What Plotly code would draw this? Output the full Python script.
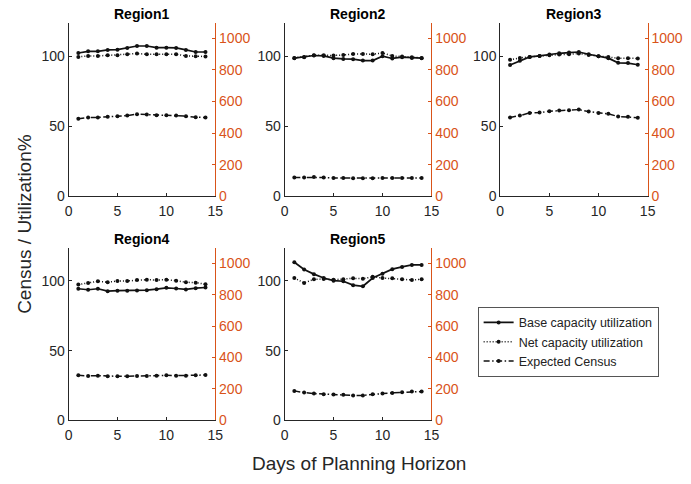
import plotly.graph_objects as go

# Planning horizon (days)
days = list(range(1, 15))

regions = ["Region1", "Region2", "Region3", "Region4", "Region5"]

# Base capacity utilization (%)
base_util = {
    "Region1": [102.3, 103.5, 103.5, 104.5, 104.7, 105.9, 107.3, 107.3, 106.1, 106.1, 105.9, 104.5, 103.0, 103.0],
    "Region2": [98.6, 99.3, 100.5, 100.2, 98.6, 98.1, 97.9, 96.9, 96.9, 100.0, 98.4, 99.3, 98.8, 98.6],
    "Region3": [93.7, 96.7, 99.5, 100.2, 101.2, 102.1, 102.6, 103.0, 101.4, 100.0, 98.6, 95.3, 95.1, 93.9],
    "Region4": [94.4, 93.7, 94.4, 92.7, 93.0, 93.0, 93.2, 93.4, 94.1, 95.1, 94.6, 93.9, 94.8, 95.3],
    "Region5": [113.4, 108.2, 104.9, 102.1, 100.2, 99.8, 97.0, 96.2, 102.1, 105.2, 108.5, 110.1, 111.5, 111.5],
}

# Net capacity utilization (%)
net_util = {
    "Region1": [99.5, 100.2, 100.2, 100.7, 100.7, 101.4, 101.9, 101.4, 101.4, 101.4, 101.4, 100.2, 100.0, 99.8],
    "Region2": [98.8, 99.5, 100.7, 100.7, 100.5, 100.9, 101.6, 101.6, 101.4, 102.3, 100.2, 99.8, 99.3, 98.8],
    "Region3": [97.4, 98.8, 99.5, 100.2, 100.7, 101.2, 101.4, 101.9, 100.9, 100.0, 99.5, 98.6, 98.6, 98.4],
    "Region4": [97.4, 98.6, 99.8, 99.1, 100.0, 100.0, 100.7, 100.9, 100.7, 100.9, 100.2, 99.1, 98.8, 97.7],
    "Region5": [102.1, 98.6, 101.2, 101.4, 100.9, 101.2, 101.9, 101.6, 103.0, 102.1, 101.9, 101.2, 100.7, 101.2],
}

# Expected census (patients), plotted against the right-hand axis
census = {
    "Region1": [491, 499, 499, 503, 507, 511, 520, 518, 513, 513, 511, 507, 501, 499],
    "Region2": [118, 118, 121, 118, 116, 116, 114, 114, 114, 116, 116, 116, 116, 116],
    "Region3": [499, 511, 528, 530, 538, 543, 545, 549, 536, 528, 522, 505, 503, 497],
    "Region4": [286, 282, 284, 280, 280, 280, 282, 282, 284, 286, 284, 284, 286, 288],
    "Region5": [187, 176, 170, 166, 164, 162, 158, 158, 166, 170, 174, 178, 183, 183],
}

x_ticks = [0, 5, 10, 15]
left_ticks = [0, 50, 100]
right_ticks = [0, 200, 400, 600, 800, 1000]

W, H = 691, 484
FONT = "Liberation Sans, Arial, sans-serif"
AX_GRAY = "#262626"
ORANGE = "#D95319"
LINE = "#111111"
TICK_SIZE = 14

# Pixel boxes of each panel: (left, right, top, bottom)
panel_px = [
    (65.7, 215.0, 23.0, 199.5),
    (285.5, 435.0, 23.0, 199.5),
    (505.0, 655.0, 23.0, 199.5),
    (65.7, 215.0, 251.7, 427.3),
    (285.5, 435.0, 251.7, 427.3),
]

fig = go.Figure()
layout = {}
annotations = []

for i, reg in enumerate(regions):
    n = i + 1
    xa = f"x{n}"
    yl = f"y{2 * n - 1}"
    yr = f"y{2 * n}"
    first = i == 0

    fig.add_trace(go.Scatter(
        x=days, y=base_util[reg], xaxis=xa, yaxis=yl, mode="lines+markers",
        name="Base capacity utilization", legendgroup="base", showlegend=first,
        line=dict(color=LINE, width=1.7, dash="solid"),
        marker=dict(color=LINE, size=4),
    ))
    fig.add_trace(go.Scatter(
        x=days, y=net_util[reg], xaxis=xa, yaxis=yl, mode="lines+markers",
        name="Net capacity utilization", legendgroup="net", showlegend=first,
        line=dict(color=LINE, width=1.5, dash="1px,2px"),
        marker=dict(color=LINE, size=4),
    ))
    fig.add_trace(go.Scatter(
        x=days, y=census[reg], xaxis=xa, yaxis=yr, mode="lines+markers",
        name="Expected Census", legendgroup="census", showlegend=first,
        line=dict(color=LINE, width=1.5, dash="6px,2.5px,1.5px,2.5px"),
        marker=dict(color=LINE, size=4),
    ))

    l, r, t, b = panel_px[i]
    xdom = [l / W, r / W]
    ydom = [1 - b / H, 1 - t / H]

    xkey = "xaxis" if n == 1 else f"xaxis{n}"
    ylkey = f"yaxis{2 * n - 1}" if n > 1 else "yaxis"
    yrkey = f"yaxis{2 * n}"
    ylname = f"y{2 * n - 1}" if n > 1 else "y"

    layout[xkey] = dict(
        domain=xdom, anchor=ylname, range=[0, 15], tickvals=x_ticks,
        showline=True, linecolor=AX_GRAY, linewidth=1, mirror=False,
        ticks="inside", ticklen=3, tickcolor=AX_GRAY,
        showgrid=False, zeroline=False, ticklabelstandoff=2,
        tickfont=dict(family=FONT, size=TICK_SIZE, color=AX_GRAY),
    )
    layout[ylkey] = dict(
        domain=ydom, anchor=xa, range=[0, 124], tickvals=left_ticks,
        showline=True, linecolor=AX_GRAY, linewidth=1,
        ticks="inside", ticklen=3, tickcolor=AX_GRAY,
        showgrid=False, zeroline=False,
        tickfont=dict(family=FONT, size=TICK_SIZE, color=AX_GRAY),
    )
    layout[yrkey] = dict(
        domain=ydom, anchor=xa, overlaying=ylname, side="right",
        range=[0, 1100], tickvals=right_ticks,
        showline=True, linecolor=ORANGE, linewidth=1,
        ticks="inside", ticklen=3, tickcolor=ORANGE,
        showgrid=False, zeroline=False,
        tickfont=dict(family=FONT, size=TICK_SIZE, color=ORANGE),
    )

    annotations.append(dict(
        text=f"<b>{reg}</b>", xref="paper", yref="paper",
        x=(l + r) / 2 / W, y=1 - (t - 9) / H, xanchor="center", yanchor="middle",
        showarrow=False, font=dict(family=FONT, size=14, color="#000000"),
    ))

annotations.append(dict(
    text="Days of Planning Horizon", xref="paper", yref="paper",
    x=361 / W, y=1 - 471 / H, xanchor="center", yanchor="middle",
    showarrow=False, font=dict(family=FONT, size=19, color=AX_GRAY),
))
annotations.append(dict(
    text="Census / Utilization%", xref="paper", yref="paper",
    x=21 / W, y=1 - 228 / H, xanchor="center", yanchor="middle", textangle=-90,
    showarrow=False, font=dict(family=FONT, size=19, color=AX_GRAY),
))

fig.update_layout(
    width=W, height=H,
    margin=dict(l=0, r=0, t=0, b=0),
    paper_bgcolor="white", plot_bgcolor="rgba(0,0,0,0)",
    showlegend=True,
    legend=dict(
        x=482 / W, y=1 - 312 / H, xanchor="left", yanchor="top",
        bordercolor="#555555", borderwidth=1, bgcolor="white",
        font=dict(family=FONT, size=12.5, color="#222222"),
        tracegroupgap=0, itemwidth=30, entrywidth=195,
    ),
    annotations=annotations,
    **layout,
)

fig.write_html("out.html")
